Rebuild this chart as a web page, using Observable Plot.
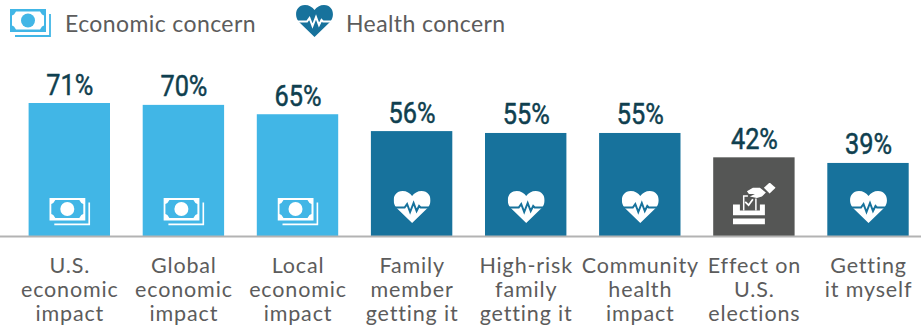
<!DOCTYPE html>
<html>
<head>
<meta charset="utf-8">
<script src="https://cdn.jsdelivr.net/npm/d3@7"></script>
<script src="https://cdn.jsdelivr.net/npm/@observablehq/plot@0.6"></script>
<style>
  html, body { margin: 0; padding: 0; background: #fff; }
  body { width: 921px; height: 328px; overflow: hidden; }
  #legend { position: relative; height: 45px; font: 400 23px Lato, sans-serif; color: #5c5c5c; }
  #legend span, #legend svg { position: absolute; }
  #legend span { white-space: nowrap; letter-spacing: 0.4px; line-height: 26px; }
  #chart svg { display: block; }
</style>
</head>
<body>
<div id="legend"></div>
<div id="chart"></div>
<script>
// Share of respondents naming each concern
const categories = [
  "U.S.\neconomic\nimpact",
  "Global\neconomic\nimpact",
  "Local\neconomic\nimpact",
  "Family\nmember\ngetting it",
  "High-risk\nfamily\ngetting it",
  "Community\nhealth\nimpact",
  "Effect on\nU.S.\nelections",
  "Getting\nit myself"
];
const values = [71, 70, 65, 56, 55, 55, 42, 39];
const kinds = ["economic", "economic", "economic", "health", "health", "health", "election", "health"];

const kindNames = ["economic", "health", "election"];
const kindColors = ["#41b6e6", "#17729c", "#555655"];
const legendLabels = {economic: "Economic concern", health: "Health concern"};

// Icon artwork, drawn in two colours so it works on a bar and on the page
const moneyIcon = (fg, bg) => `<svg xmlns="http://www.w3.org/2000/svg" width="41" height="28" viewBox="0 0 41 28">
  <rect x="0" y="0" width="36" height="23" fill="${fg}"/>
  <path d="M40 5V27H5" fill="none" stroke="${fg}" stroke-width="1.8"/>
  <path d="M6 2.500H30L32 5.500L34 6.500V16.500L32 17.500L30 20.500H6L4 17.500L2 16.500V6.500L4 5.500Z" fill="${bg}"/>
  <circle cx="18" cy="11.500" r="7" fill="${fg}"/>
</svg>`;
const heartIcon = (fg, bg) => `<svg xmlns="http://www.w3.org/2000/svg" width="37" height="32" viewBox="0 0 37 32">
  <path d="M18.500 32L2.500 16.500C-2 11 -.5 0 9 0C13 0 16.500 2 18.500 5C20.500 2 24 0 28 0C37.500 0 39 11 34.500 16.500Z" fill="${fg}"/>
  <path d="M0 16.500H11L13.500 13L16.500 21L20 12L23 20L25.500 15L27 16.500H37" fill="none" stroke="${bg}" stroke-width="2"/>
</svg>`;
const ballotIcon = fg => `<svg xmlns="http://www.w3.org/2000/svg" width="43" height="42" viewBox="0 0 43 42">
  <path d="M36.700 0L42.700 5.300L36.700 11L31 5.300Z" fill="${fg}"/>
  <path d="M14 8.700L20 5.300H27L33 10L29 14L24 15.500L17 14L22 11.500H16Z" fill="${fg}"/>
  <path d="M0 22H7V28H27V22H32V32.700H0Z" fill="${fg}"/>
  <path d="M10.800 28V13.500H15M23 16V28" fill="none" stroke="${fg}" stroke-width="1.500"/>
  <path d="M12.300 19.300L15.700 22.700L20 16.700" fill="none" stroke="${fg}" stroke-width="1.800"/>
  <rect x="0" y="36" width="32" height="6" fill="${fg}"/>
</svg>`;
const asSrc = svg => "data:image/svg+xml," + encodeURIComponent(svg);

const rows = categories.map((category, i) => ({category, value: values[i], kind: kinds[i]}));
const icons = [
  {kind: "economic", src: asSrc(moneyIcon("#fff", "#41b6e6")), width: 41, height: 28, dy: -25},
  {kind: "health", src: asSrc(heartIcon("#fff", "#17729c")), width: 37, height: 32, dy: -29.5},
  {kind: "election", src: asSrc(ballotIcon("#fff")), width: 43, height: 42, dy: -33}
];

// Legend above the chart
const legend = document.getElementById("legend");
legend.innerHTML = `
  <span style="left:65px;top:10px">${legendLabels.economic}</span>
  <span style="left:346px;top:10px">${legendLabels.health}</span>`;
const place = (markup, left, top) => {
  const holder = document.createElement("div");
  holder.innerHTML = markup;
  const svg = holder.firstChild;
  svg.style.left = left + "px";
  svg.style.top = top + "px";
  legend.appendChild(svg);
};
place(moneyIcon("#41b6e6", "#fff"), 10, 9);
place(heartIcon("#17729c", "#fff"), 296, 5);

const chart = Plot.plot({
  width: 921,
  height: 283,
  marginLeft: 28.6,
  marginRight: 12.3,
  marginTop: 0,
  marginBottom: 92,
  style: {background: "transparent", overflow: "visible"},
  x: {domain: categories, paddingInner: 0.2866, paddingOuter: 0, round: false, label: null},
  y: {domain: [0, 71], range: [191, 58], axis: null},
  color: {domain: kindNames, range: kindColors},
  marks: [
    Plot.barY(rows, {x: "category", y: "value", fill: "kind"}),
    ...icons.map(icon => Plot.image(rows.filter(d => d.kind === icon.kind), {
      x: "category",
      y: () => 0,
      src: () => icon.src,
      width: icon.width,
      height: icon.height,
      dy: icon.dy
    })),
    Plot.ruleY([0], {stroke: "#b3b3b3", strokeWidth: 2, insetLeft: -28.6, insetRight: -12.3}),
    Plot.text(rows, {
      x: "category",
      y: "value",
      text: d => `${d.value}%`,
      lineAnchor: "bottom",
      dy: -9,
      fontFamily: "Roboto, sans-serif",
      fontSize: 29,
      fill: "#0f3f4f",
      stroke: "#0f3f4f",
      strokeWidth: 0.5,
      className: "value-label"
    }),
    Plot.axisX({
      anchor: "bottom",
      tickSize: 0,
      tickPadding: 19,
      label: null,
      fontSize: 21.5,
      lineHeight: 1.116,
      fill: "#5c5c5c",
      fontFamily: "Lato, sans-serif",
      tickFormat: d => d,
      textOverflow: null,
      lineAnchor: "top",
      className: "category-label"
    })
  ]
});
document.getElementById("chart").appendChild(chart);

// The value labels use a condensed setting of the face
chart.querySelectorAll(".value-label text").forEach(t => {
  t.setAttribute("textLength", 47);
  t.setAttribute("lengthAdjust", "spacingAndGlyphs");
});
chart.querySelectorAll(".category-label text").forEach(t => {
  t.style.letterSpacing = "0.85px";
});
</script>
</body>
</html>
